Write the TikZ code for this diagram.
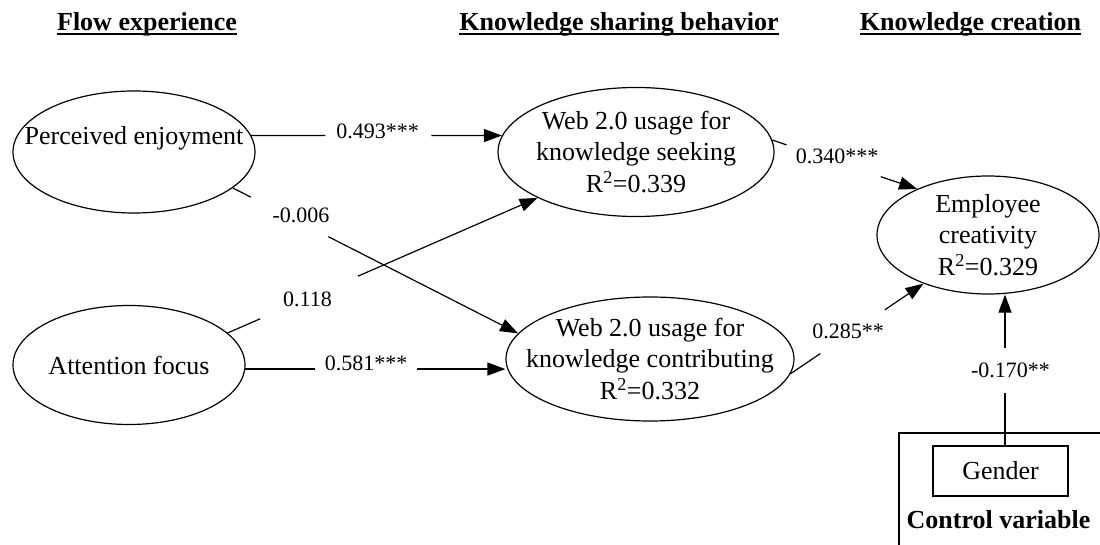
\documentclass[tikz,border=0pt]{standalone}
\usepackage{fontspec}
\setmainfont{Liberation Serif}
\usetikzlibrary{arrows.meta,shapes.geometric}
\tikzset{
  ell/.style={draw, ellipse, line width=1.2pt, inner sep=0pt},
  nodetxt/.style={font=\fontsize{26}{31.5}\selectfont, align=center, inner sep=0pt},
  lbl/.style={font=\fontsize{22}{26}\selectfont, inner sep=0pt},
  conn/.style={line width=1.2pt},
  arr/.style={line width=1.2pt, -{Triangle[length=18pt,width=13pt]}},
  ttl/.style={font=\bfseries\fontsize{26}{31}\selectfont, inner sep=0pt, anchor=base},
  uline/.style={line width=2.5pt},
  gbox/.style={draw, line width=1.2pt, minimum width=135pt, minimum height=50pt, inner sep=0pt, font=\fontsize{26}{31}\selectfont},
  frame/.style={line width=1.2pt}
}
\begin{document}
\begin{tikzpicture}[x=1pt,y=-1pt]
\useasboundingbox (0,0) rectangle (1100,545);
% titles
\node[ttl] (T1) at (147,31) {Flow experience};
\node[ttl] (T2) at (619,31) {Knowledge sharing behavior};
\node[ttl] (T3) at (970.5,31) {Knowledge creation};
\draw[uline] ([yshift=-3pt]T1.base west) -- ([yshift=-3pt]T1.base east);
\draw[uline] ([yshift=-3pt]T2.base west) -- ([yshift=-3pt]T2.base east);
\draw[uline] ([yshift=-3pt]T3.base west) -- ([yshift=-3pt]T3.base east);
% ellipses
\node[ell, minimum width=242pt, minimum height=122pt] (PE) at (134,152) {};
\node[nodetxt] (PEt) at (134,138) {Perceived enjoyment};
\node[ell, minimum width=232pt, minimum height=119pt] (AF) at (129,365) {};
\node[nodetxt] (AFt) at (AF.center) {Attention focus};
\node[ell, minimum width=276pt, minimum height=129pt] (SK) at (636,152) {};
\node[nodetxt] (SKt) at (SK.center) {Web 2.0 usage for\\knowledge seeking\\R\textsuperscript{2}=0.339};
\node[ell, minimum width=288pt, minimum height=124pt] (CT) at (650,359) {};
\node[nodetxt] (CTt) at (CT.center) {Web 2.0 usage for\\knowledge contributing\\R\textsuperscript{2}=0.332};
\node[ell, minimum width=222pt, minimum height=118pt] (EC) at (988,235) {};
\node[nodetxt] (ECt) at (EC.center) {Employee\\creativity\\R\textsuperscript{2}=0.329};
% control variable
\draw[frame] (1100,433) -- (899,433) -- (899,545);
\node[gbox] (G) at (1000.5,471) {Gender};
\node[font=\bfseries\fontsize{26}{31}\selectfont, inner sep=0pt] (CV) at (998.5,520) {Control variable};
% PE -> SK
\path (PE.8) -- (SK.173) coordinate[pos=0.296] (a1) coordinate[pos=0.719] (a2);
\draw[conn] (PE.8) -- (a1);
\draw[arr] (a2) -- (SK.173);
\node[lbl] (l1) at (377.5,131.5) {0.493***};
% AF -> CT
\coordinate (b0) at (AF.-2);
\coordinate (b3) at (b0 -| CT.west);
\path (b0) -- (b3) coordinate[pos=0.267] (b1) coordinate[pos=0.66] (b2);
\draw[conn] (b0) -- (b1);
\draw[arr] (b2) -- (b3);
\node[lbl] (l4) at (366,363) {0.581***};
% PE -> CT
\path (PE.-20) -- (CT.169) coordinate[pos=0.063] (c1) coordinate[pos=0.335] (c2);
\draw[conn] (PE.-20) -- (c1);
\draw[arr] (c2) -- (CT.169);
\node[lbl] (l2) at (301,215) {-0.006};
% AF -> SK
\path (AF.18) -- (SK.205) coordinate[pos=0.105] (d1) coordinate[pos=0.42] (d2);
\draw[conn] (AF.18) -- (d1);
\draw[arr] (d2) -- (SK.205);
\node[lbl] (l3) at (307.5,299) {0.118};
% SK -> EC
\path (SK.5) -- (EC.147) coordinate[pos=0.099] (e1) coordinate[pos=0.749] (e2);
\draw[conn] (SK.5) -- (e1);
\draw[arr] (e2) -- (EC.147);
\node[lbl] (l5) at (837,156) {0.340***};
% CT -> EC
\path (CT.-6) -- (EC.217) coordinate[pos=0.224] (f1) coordinate[pos=0.709] (f2);
\draw[conn] (CT.-6) -- (f1);
\draw[arr] (f2) -- (EC.217);
\node[lbl] (l6) at (848,331) {0.285**};
% Gender -> EC
\coordinate (g0) at ([xshift=4.5pt]G.north);
\coordinate (g3) at (g0 |- EC.south);
\path (g0) -- (g3) coordinate[pos=0.349] (g1) coordinate[pos=0.645] (g2);
\draw[conn] (g0) -- (g1);
\draw[arr] (g2) -- (g3);
\node[lbl] (l7) at (1010.5,370) {-0.170**};
\end{tikzpicture}
\end{document}
